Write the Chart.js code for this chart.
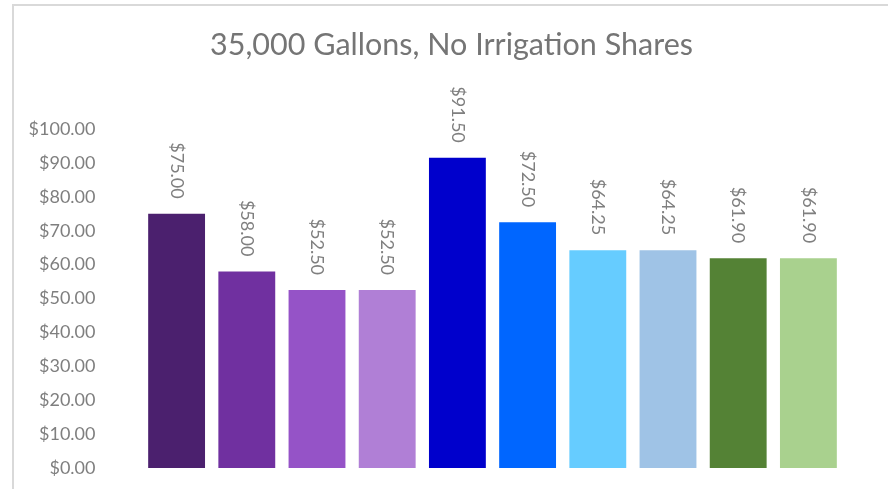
<!DOCTYPE html>
<html>
<head>
<meta charset="utf-8">
<script src="https://cdn.jsdelivr.net/npm/chart.js@4"></script>
<style>
  html, body { margin: 0; padding: 0; background: #fff; overflow: hidden; }
  #frame {
    position: absolute; left: 12px; top: 4px;
    width: 874px; height: 483px;
    border-left: 2px solid #d9d9d9; border-top: 2px solid #d9d9d9;
  }
  #chart { position: absolute; left: 0; top: 0; }
</style>
</head>
<body>
<div id="frame"></div>
<canvas id="chart" width="888" height="489"></canvas>
<script>
// Данные диаграммы
const chartTitle = '35,000 Gallons, No Irrigation Shares';
const categories = ['1', '2', '3', '4', '5', '6', '7', '8', '9', '10'];
const prices = [75.00, 58.00, 52.50, 52.50, 91.50, 72.50, 64.25, 64.25, 61.90, 61.90];
const barColors = [
  '#4B206E', '#7030A0', '#9553C7', '#B07FD6',
  '#0000CC', '#0066FF', '#66CCFF', '#9FC3E6',
  '#548235', '#A9D18E'
];
const yTicks = [0, 10, 20, 30, 40, 50, 60, 70, 80, 90, 100];

const textGray = '#7f7f7f';

function money(v) {
  return '$' + v.toFixed(2);
}

// Заголовок рисуем сами: центр у Excel смещен относительно области графика
const titlePlugin = {
  id: 'excelTitle',
  afterDraw(chart) {
    const ctx = chart.ctx;
    ctx.save();
    ctx.fillStyle = '#757575';
    ctx.font = '30.5px Lato';
    ctx.textAlign = 'center';
    ctx.textBaseline = 'middle';
    ctx.fillText(chartTitle, 451.5, 45);
    ctx.restore();
  }
};

// Подписи над столбцами, повернутые на 90°
const barLabels = {
  id: 'barLabels',
  afterDatasetsDraw(chart) {
    const ctx = chart.ctx;
    const meta = chart.getDatasetMeta(0);
    ctx.save();
    ctx.fillStyle = textGray;
    ctx.font = '18px Lato';
    ctx.textAlign = 'right';
    ctx.textBaseline = 'middle';
    meta.data.forEach((bar, i) => {
      ctx.save();
      ctx.translate(bar.x, bar.y - 15);
      ctx.rotate(Math.PI / 2);
      ctx.fillText(money(prices[i]), 0, 0);
      ctx.restore();
    });
    ctx.restore();
  }
};

const ctx = document.getElementById('chart').getContext('2d');
new Chart(ctx, {
  type: 'bar',
  data: {
    labels: categories,
    datasets: [{
      data: prices,
      backgroundColor: barColors,
      borderWidth: 0,
      barPercentage: 0.81,
      categoryPercentage: 1
    }]
  },
  options: {
    responsive: false,
    animation: false,
    layout: { padding: { left: 0, right: 44.5, top: 129, bottom: 21 } },
    plugins: {
      legend: { display: false },
      tooltip: { enabled: false },
      title: { display: false }
    },
    scales: {
      x: { display: false },
      y: {
        min: 0,
        max: 100,
        afterFit(scale) {
          scale.width = 141.5;
          // отступ подписей не должен сжимать область по высоте
          scale.paddingTop = 10;
          scale.paddingBottom = 10;
        },
        afterBuildTicks(scale) { scale.ticks = yTicks.map(v => ({ value: v })); },
        grid: { display: false, drawTicks: false },
        border: { display: false },
        ticks: {
          padding: 46,
          color: textGray,
          font: { family: 'Lato', size: 18 },
          callback: v => money(v)
        }
      }
    }
  },
  plugins: [barLabels, titlePlugin]
});
</script>
</body>
</html>
